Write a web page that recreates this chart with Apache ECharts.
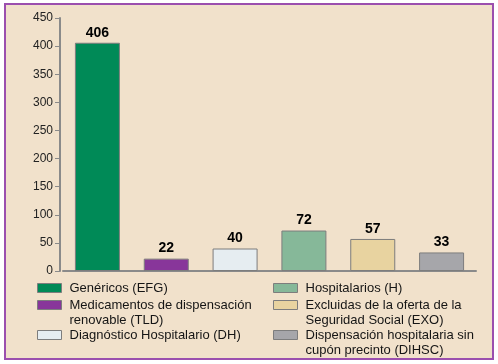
<!DOCTYPE html>
<html><head><meta charset="utf-8">
<script src="https://cdn.jsdelivr.net/npm/echarts@6/dist/echarts.min.js"></script>
<style>
body{margin:0;background:#fff;}
#frame{position:absolute;left:4px;top:3px;width:486px;height:353px;border:2px solid #9b4fae;background:#f1e1cb;}
#c{position:absolute;left:0;top:0;width:498px;height:364px;}
</style></head><body>
<div id="frame"></div><div id="c"></div>
<script>
const categories = ['EFG','TLD','DH','H','EXO','DIHSC'];
const values = [406, 22, 40, 72, 57, 33];
const seriesNames = [
  'Genéricos (EFG)',
  'Medicamentos de dispensación\nrenovable (TLD)',
  'Diagnóstico Hospitalario (DH)',
  'Hospitalarios (H)',
  'Excluidas de la oferta de la\nSeguridad Social (EXO)',
  'Dispensación hospitalaria sin\ncupón precinto (DIHSC)'
];
const colors = ['#008a57','#88369a','#e6edf1','#86b899','#e8d3a0','#a6a6aa'];
const yTicks = [0,50,100,150,200,250,300,350,400,450];

const legendPos = [
  {left:37, center:288},
  {left:37, center:305},
  {left:37, center:335},
  {left:273, center:288},
  {left:273, center:305},
  {left:273, center:335}
];
const font = '"Liberation Sans", Arial, sans-serif';

const series = seriesNames.map((n, i) => ({
  name: n,
  type: 'bar',
  stack: 'all',
  barWidth: 45,
  data: categories.map((c, j) => j === i ? values[j] : '-'),
  itemStyle: {color: colors[i], borderColor: '#7d7d7d', borderWidth: 1},
  label: {show: true, position: 'top', distance: 3, color: '#000', fontWeight: 'bold', fontSize: 14, fontFamily: font}
}));

const legends = seriesNames.map((n, i) => {
  const two = n.indexOf('\n') >= 0;
  return {
    data: [n], left: legendPos[i].left,
    top: legendPos[i].center - (two ? 22.5 : 7.5),
    padding: 0, itemWidth: 24, itemHeight: 9, itemGap: 0,
    icon: 'rect', selectedMode: false,
    formatter: (name) => two ? '\n' + name : name,
    itemStyle: {borderColor: '#7d7d7d', borderWidth: 1},
    textStyle: {fontFamily: font, fontSize: 13, color: '#151515', lineHeight: 15, padding: [0,0,0,3]}
  };
});

const chart = echarts.init(document.getElementById('c'));
chart.setOption({
  animation: false,
  grid: {left: 63, right: 22, top: 18, bottom: 93},
  xAxis: {
    type: 'category', data: categories,
    axisLine: {lineStyle: {color: '#8a8a8a', width: 2}},
    axisTick: {show: false},
    axisLabel: {show: false}
  },
  yAxis: {
    type: 'value', min: yTicks[0], max: yTicks[yTicks.length-1], interval: 50,
    offset: 3,
    splitLine: {show: false},
    axisLine: {show: true, lineStyle: {color: '#8a8a8a', width: 2}},
    axisTick: {show: true, length: 5, lineStyle: {color: '#8a8a8a', width: 1}},
    axisLabel: {color: '#222', fontSize: 12, margin: 7, fontFamily: font}
  },
  legend: legends,
  series: series
});
</script></body></html>
